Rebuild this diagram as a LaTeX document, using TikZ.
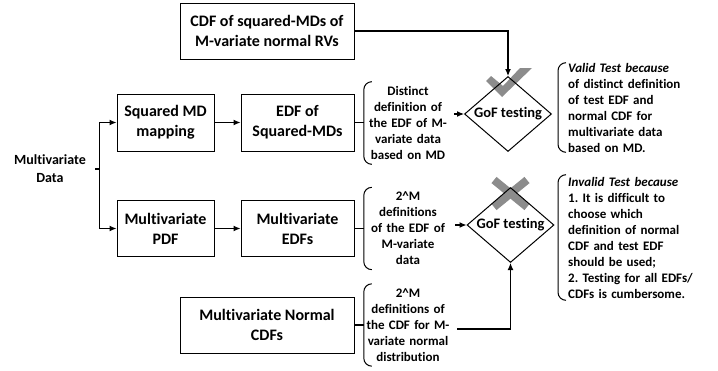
\documentclass[tikz,border=0pt]{standalone}
\usepackage{fontspec}
\setmainfont[Ligatures=NoCommon]{Carlito}
\frenchspacing
\usetikzlibrary{arrows.meta,shapes.geometric}
\definecolor{markgray}{RGB}{140,140,140}
\begin{document}
\begin{tikzpicture}[x=1pt,y=-1pt,
  box/.style={draw,line width=1pt,minimum width=#1,minimum height=56pt,inner sep=2pt,align=center,font=\fontsize{16}{20}\selectfont\bfseries},
  dia/.style={draw,diamond,line width=1pt,minimum width=87pt,minimum height=75pt,inner sep=0pt,font=\fontsize{14.5}{17}\selectfont\bfseries},
  brtext/.style={text width=84pt,inner xsep=2pt,inner ysep=4.5pt,align=center,font=\fontsize{13}{16}\selectfont\bfseries},
  notetext/.style={anchor=west,text width=150pt,inner xsep=10pt,inner ysep=#1,align=left,font=\fontsize{13}{16}\selectfont\bfseries},
  conn/.style={line width=1.1pt},
  arr/.style={line width=1.1pt,-{Latex[length=7pt,width=6pt]}},
  brk/.style={line width=1pt,rounded corners=8pt},
  graymark/.style={fill=markgray,draw=none}
]
\useasboundingbox (0,0) rectangle (718,370);
% gray marks (behind diamonds)
\fill[graymark] (486,81) -- (491,76) -- (503,86) -- (520,68) -- (532,68) -- (502,97) -- cycle;
\draw[markgray,line width=8pt] (494,180) -- (527,207);
\draw[markgray,line width=8pt] (527,180) -- (494,207);
% boxes
\node[box=174pt] (cdf) at (267,31) {CDF of squared-MDs of\\M-variate normal RVs};
\node[box=97pt,minimum height=57pt] (sqmd) at (165.5,122.5) {Squared MD\\mapping};
\node[box=113pt,minimum height=57pt] (edfsq) at (297.5,122.5) {EDF of\\Squared-MDs};
\node[box=97pt] (mvpdf) at (165.5,228.5) {Multivariate\\PDF};
\node[box=113pt] (mvedf) at (297.5,228.5) {Multivariate\\EDFs};
\node[box=174pt] (mvcdf) at (267,325) {Multivariate Normal\\CDFs};
\node[align=center,inner xsep=9pt,font=\fontsize{14}{18}\selectfont\bfseries] (data) at (50,169) {Multivariate\\Data};
\coordinate (split) at (99.5,169);
% diamonds
\node[dia] (d1) at (508,114) {\makebox[0pt]{GoF testing}};
\node[dia] (d2) at (510.5,225) {\makebox[0pt]{GoF testing}};
% brace texts
\node[brtext] (t1) at (408,123) {Distinct\\definition of\\the EDF of M-\\variate data\\based on MD};
\node[brtext] (t3) at (408,228.5) {2\textasciicircum M\\definitions\\of the EDF of\\M-variate\\data};
\node[brtext] (t4) at (408,325) {2\textasciicircum M\\definitions of\\the CDF for M-\\variate normal\\distribution};
\node[notetext=0pt] (t2) at (558,107.5) {\textit{Valid Test because}\\of distinct definition\\of test EDF and\\normal CDF for\\multivariate data\\based on MD.};
\node[notetext=2pt] (t5) at (558,237.5) {\textit{Invalid Test because}\\1. It is difficult to\\choose which\\definition of normal\\CDF and test EDF\\should be used;\\2. Testing for all EDFs/\\CDFs is cumbersome.};
% brackets
\foreach \n in {t1,t2,t3,t4,t5}{
  \draw[brk] ([xshift=8pt]\n.north west) -- (\n.north west) -- (\n.south west) -- ([xshift=8pt]\n.south west);
}
% connectors
\draw[conn] (data.east) -- (split);
\draw[arr] (split) |- (sqmd.west);
\draw[arr] (split) |- (mvpdf.west);
\draw[arr] (sqmd.east) -- (edfsq.west);
\draw[arr] (mvpdf.east) -- (mvedf.west);
\draw[conn] (edfsq.east) -- (edfsq.east -| t1.west);
\draw[conn] (mvedf.east) -- (mvedf.east -| t3.west);
\draw[conn] (mvcdf.east) -- (mvcdf.east -| t4.west);
\draw[arr] ([xshift=2pt]t1.east |- d1.west) -- (d1.west);
\draw[arr] ([xshift=3pt]t3.east |- d2.west) -- (d2.west);
\draw[arr] (cdf.east) -| (d1.north);
\draw[arr] ([xshift=5pt,yshift=-4pt]t4.east) -| (d2.south);
\end{tikzpicture}
\end{document}
